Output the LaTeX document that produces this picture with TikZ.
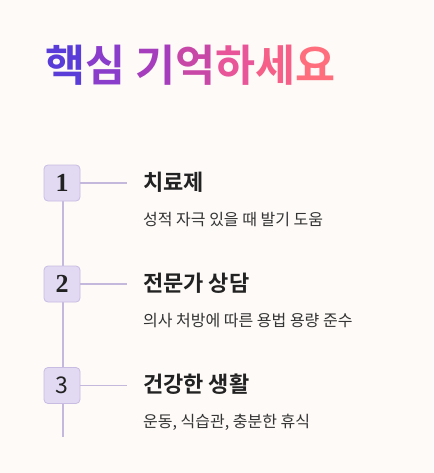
\documentclass[tikz,border=0pt]{standalone}
\usepackage{fontspec}
\usepackage{tikz}
\newfontfamily\krfont{Noto Sans CJK KR}[BoldFont={Noto Sans CJK KR Bold}]
\newfontfamily\numfont{Liberation Serif}
\definecolor{bgcream}{HTML}{FDFAF7}
\definecolor{boxfill}{HTML}{E2DAF3}
\definecolor{boxline}{HTML}{C9BCE3}
\definecolor{railline}{HTML}{C5B8DD}
\definecolor{headtext}{HTML}{222222}
\definecolor{subtext}{HTML}{333333}
\newcommand{\tc}[2]{\textcolor[HTML]{#1}{#2}}

\begin{document}
\begin{tikzpicture}[x=1pt,y=-1pt,
  numbox/.style={draw=boxline,fill=boxfill,line width=0.8pt,rounded corners=4pt,minimum size=36pt,inner sep=0pt},
  rail/.style={draw=railline,line width=1.6pt},
  headline/.style={anchor=base west,inner sep=0pt,text=headtext,font=\krfont\bfseries\fontsize{22}{26}\selectfont},
  subline/.style={anchor=base west,inner sep=0pt,text=subtext,font=\krfont\fontsize{16}{19}\selectfont}]

\fill[bgcream] (0,0) rectangle (433,473);
\useasboundingbox (0,0) rectangle (433,473);

% title, coloured letter by letter
\node[anchor=base west,inner sep=0pt,font=\krfont\bfseries\fontsize{43.5}{50}\selectfont] (title) at (45,82)
  {\tc{5A3CD8}{핵}\tc{8A3CCB}{심} \tc{A53DBC}{기}\tc{C848A8}{억}\tc{E85598}{하}\tc{F55F88}{세}\tc{FF6E7C}{요}};

% rail
\coordinate (railend) at (62.7,437);
\draw[rail] (62.7,201) -- (railend);

\node[numbox,font=\numfont\bfseries\fontsize{26}{30}\selectfont,text=headtext] (num1) at (62,183) {1};
\node[numbox,font=\numfont\bfseries\fontsize{26}{30}\selectfont,text=headtext] (num2) at (62,284) {2};
\node[numbox,font=\krfont\fontsize{23}{26}\selectfont,text=headtext] (num3) at (62,385.5) {3};

\coordinate (tip1) at (127,183);
\coordinate (tip2) at (127,284);
\coordinate (tip3) at (127,385.5);
\draw[rail] (num1.east) -- (tip1);
\draw[rail] (num2.east) -- (tip2);
\draw[rail] (num3.east) -- (tip3);

\node[headline] (head1) at (143,190) {치료제};
\node[subline] (sub1) at (143,225) {성적 자극 있을 때 발기 도움};
\node[headline] (head2) at (143,291) {전문가 상담};
\node[subline] (sub2) at (143,326) {의사 처방에 따른 용법 용량 준수};
\node[headline] (head3) at (143,392.5) {건강한 생활};
\node[subline] (sub3) at (143,427.5) {운동, 식습관, 충분한 휴식};
\end{tikzpicture}
\end{document}
